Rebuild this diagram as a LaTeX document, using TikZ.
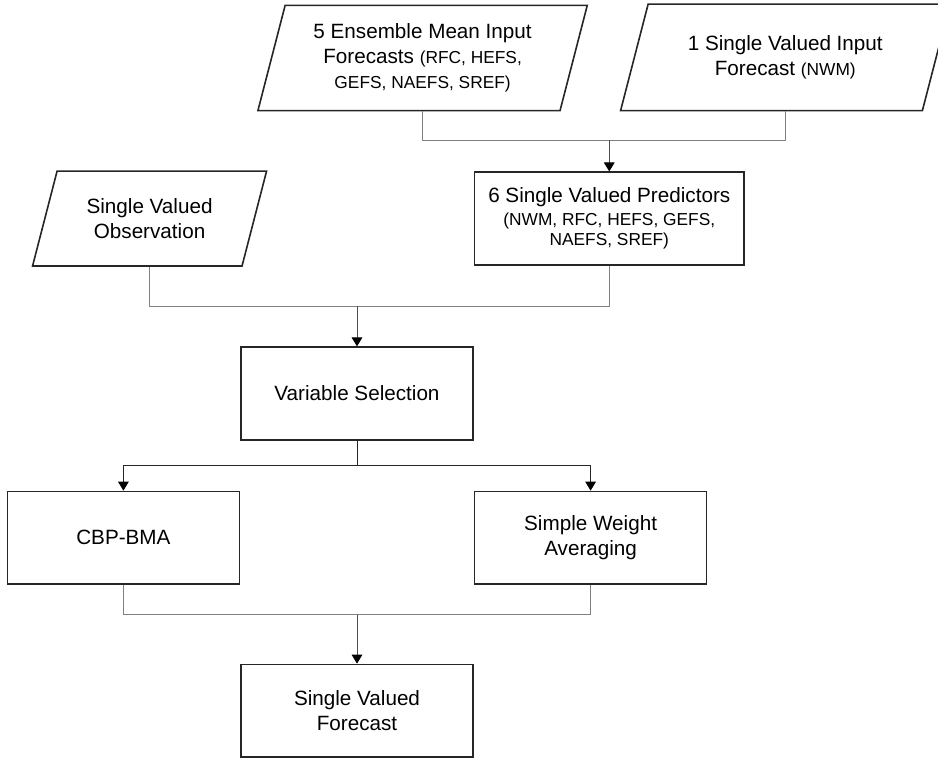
\documentclass[tikz,border=0pt]{standalone}
\usepackage{fontspec}
\setmainfont{Liberation Sans}
\usetikzlibrary{positioning,arrows.meta,shapes.geometric}

\newcommand{\srcnames}[1]{{\fontsize{13}{15}\selectfont #1}}

\begin{document}
\begin{tikzpicture}[
    x=0.75pt, y=-0.75pt,
    font=\fontsize{15.5}{18.75}\selectfont,
    block/.style={draw=black!85, line width=1.2pt, align=center, minimum height=69.5pt, minimum width=174pt, inner sep=2pt},
    io/.style={draw=black!85, line width=1.2pt, trapezium, trapezium left angle=75.5, trapezium right angle=104.5, trapezium stretches body, align=center, minimum width=247pt, inner xsep=2pt, inner ysep=13.75pt},
    link/.style={draw=black!50, line width=0.75pt},
    line/.style={-{Triangle[length=6.75pt, width=8pt, color=black]}, draw=black!70, line width=0.75pt}
]
\useasboundingbox (0,0) rectangle (938,757);

\node[block] (vsel) at (357,393.5) {Variable Selection};
\node[block, below left=37.5pt and 0pt of vsel] (cbp) {CBP-BMA};
\node[block, below right=37.5pt and 0pt of vsel] (swa) {Simple Weight\\ Averaging};
\node[block, below=167.25pt of vsel] (svf) {Single Valued\\ Forecast};
\node[block, minimum width=202pt, above right=60.5pt and 0pt of vsel] (pred) {6 Single Valued Predictors\\[-1.5pt] \srcnames{(NWM, RFC, HEFS, GEFS,}\\[-3.75pt] \srcnames{NAEFS, SREF)}};
\node[io, minimum width=175.5pt, inner ysep=20.5pt, left=164pt of pred] (obs) {Single Valued\\ Observation};
\node[io, above=45pt of pred, xshift=-140pt] (ens) {5 Ensemble Mean Input\\ Forecasts \srcnames{(RFC, HEFS,}\\ \srcnames{GEFS, NAEFS, SREF)}};
\node[io, inner ysep=23.6pt, above=45pt of pred, xshift=132pt] (nwmin) {1 Single Valued Input\\ Forecast \srcnames{(NWM)}};

\coordinate[above=23.25pt of pred] (predjoin);
\coordinate[above=30pt of vsel] (vseljoin);
\coordinate[below=18.75pt of vsel] (vselsplit);
\coordinate[above=36.75pt of svf] (svfjoin);

\draw[link] (ens.center |- ens.south) |- (predjoin) -| (nwmin.center |- nwmin.south);
\draw[line] (predjoin) -- (pred);
\draw[link] (obs.center |- obs.south) |- (vseljoin) -| (pred.south);
\draw[line] (vseljoin) -- (vsel);
\draw[link, draw=black!85] (vsel.south) -- (vselsplit);
\draw[line, draw=black!85] (vselsplit) -| (cbp.north);
\draw[line, draw=black!85] (vselsplit) -| (swa.north);
\draw[link] (cbp.south) |- (svfjoin) -| (swa.south);
\draw[line] (svfjoin) -- (svf);
\end{tikzpicture}
\end{document}
